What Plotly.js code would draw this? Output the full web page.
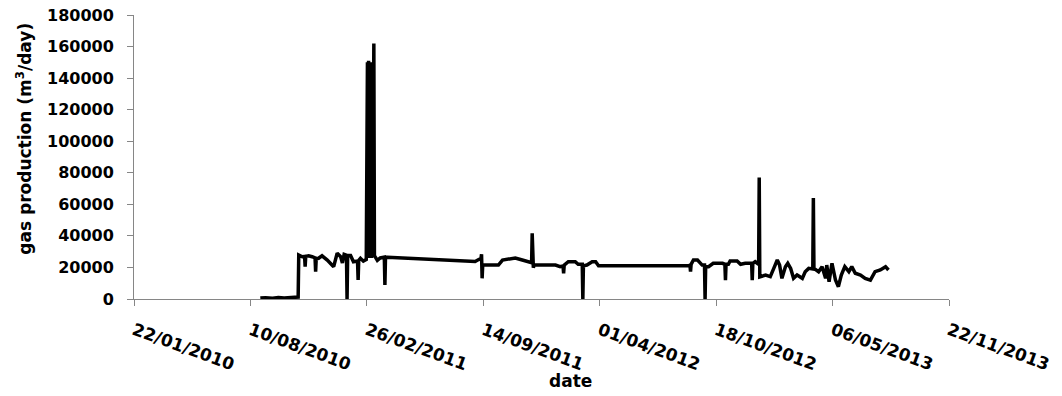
<!DOCTYPE html>
<html><head><meta charset="utf-8">
<script src="https://cdn.plot.ly/plotly-3.0.1.min.js"></script>
<style>html,body{margin:0;padding:0;background:#fff;}</style>
</head><body><div id="chart" style="width:1062px;height:396px;"></div>
<script>
const dates = [
'2010-08-27','2010-09-05','2010-09-17','2010-09-27','2010-10-07','2010-10-18','2010-10-31',
'2010-11-01','2010-11-07','2010-11-11','2010-11-12','2010-11-13','2010-11-18','2010-11-24','2010-11-29','2010-11-30','2010-12-01',
'2010-12-05','2010-12-11','2010-12-20','2010-12-25','2010-12-31','2011-01-06','2011-01-12','2011-01-15','2011-01-18',
'2011-01-22','2011-01-23','2011-01-24','2011-01-29','2011-02-03','2011-02-10','2011-02-11','2011-02-12',
'2011-02-15','2011-02-20','2011-02-25',
'2011-02-27','2011-02-28','2011-03-01','2011-03-02','2011-03-03','2011-03-04','2011-03-05','2011-03-06',
'2011-03-07','2011-03-08','2011-03-10','2011-03-11','2011-03-16','2011-03-21','2011-03-28','2011-03-29','2011-03-30','2011-04-02',
'2011-08-31','2011-09-06','2011-09-10','2011-09-11','2011-09-12','2011-09-13','2011-09-18','2011-09-26','2011-10-10','2011-10-17',
'2011-10-31','2011-11-08','2011-11-20','2011-11-29','2011-12-06','2011-12-07','2011-12-08','2011-12-09','2011-12-10',
'2011-12-18','2011-12-30','2012-01-16','2012-01-24','2012-01-29','2012-01-30','2012-01-31','2012-02-07','2012-02-19','2012-02-24',
'2012-03-02','2012-03-03','2012-03-04','2012-03-10','2012-03-19','2012-03-25','2012-03-30',
'2012-09-01','2012-09-03','2012-09-04','2012-09-05','2012-09-09','2012-09-16','2012-09-24','2012-09-28','2012-09-29','2012-09-30',
'2012-10-05','2012-10-13','2012-10-29','2012-11-02','2012-11-03','2012-11-04','2012-11-08','2012-11-11','2012-11-23','2012-11-29',
'2012-12-07','2012-12-18','2012-12-19','2012-12-20','2012-12-24','2012-12-30','2012-12-31','2013-01-01','2013-01-11','2013-01-19',
'2013-01-25','2013-01-31','2013-02-04','2013-02-08','2013-02-14','2013-02-18','2013-02-23','2013-02-28',
'2013-03-06','2013-03-15','2013-03-20','2013-03-26','2013-04-02','2013-04-03','2013-04-04','2013-04-12',
'2013-04-18','2013-04-24','2013-04-26','2013-04-30','2013-05-05','2013-05-11','2013-05-16','2013-05-21',
'2013-05-27','2013-06-03','2013-06-08','2013-06-14','2013-06-23','2013-07-01','2013-07-10','2013-07-18',
'2013-07-27','2013-08-05','2013-08-10'
];
const gas = [
600,800,500,900,700,1000,1200,
27900,26800,27000,20500,27000,27400,26800,26000,17300,25500,
25800,27400,24700,22600,20500,29000,26800,22800,28300,
27800,0,27600,27600,23600,24000,12000,24500,
25800,24000,25000,
150000,27000,151000,26000,150000,27000,149000,26000,
150000,27000,162000,27500,24500,26000,26500,8900,26400,26400,
23800,25000,25500,28300,13100,21500,21500,22000,21500,24700,
25500,26000,24700,23600,23000,41600,22000,19800,21500,
21500,22000,21500,20500,21000,16300,21500,23600,23600,22000,
22000,0,21000,21500,23600,23600,21100,
21100,21500,17300,22000,24700,24700,21500,21500,0,20500,
20500,22600,22600,22000,12000,22000,22000,24100,24100,22000,
22600,22600,12000,22600,23600,22000,77000,14000,15200,14200,
19400,24700,21500,13100,20500,22600,19400,13100,
15200,13100,17300,19400,19000,64000,19400,17300,
20500,13100,21500,11000,22600,12000,7800,15200,
20500,17300,20500,16300,15200,13100,12000,17300,
18400,20500,18400
];
const tickDates = ['2010-01-22','2010-08-10','2011-02-26','2011-09-14','2012-04-01','2012-10-18','2013-05-06','2013-11-22'];
const tickLabels = ['22/01/2010','10/08/2010','26/02/2011','14/09/2011','01/04/2012','18/10/2012','06/05/2013','22/11/2013'];
const yTicks = [0,20000,40000,60000,80000,100000,120000,140000,160000,180000];

const fontFam = 'DejaVu Sans, sans-serif';
const trace = {
  x: dates, y: gas, type: 'scatter', mode: 'lines',
  line: {color: '#000000', width: 3.5},
  hoverinfo: 'skip'
};
const layout = {
  width: 1062, height: 396,
  margin: {l: 134, r: 113, t: 15, b: 97},
  paper_bgcolor: '#ffffff', plot_bgcolor: '#ffffff',
  showlegend: false,
  font: {family: fontFam, color: '#000000', size: 15, weight: 'bold'},
  xaxis: {
    type: 'date', range: ['2010-01-22', '2013-11-22'],
    tickmode: 'array', tickvals: tickDates, ticktext: tickLabels,
    tickangle: 20, ticks: 'outside', ticklen: 6, tickcolor: '#868686', tickwidth: 1,
    showline: true, linecolor: '#868686', linewidth: 1,
    showgrid: false, zeroline: false,
    tickfont: {family: fontFam, size: 17, color: '#000000', weight: 'bold'},
    ticklabelstandoff: 8
  },
  yaxis: {
    range: [0, 180000], tickmode: 'array', tickvals: yTicks,
    ticktext: yTicks.map(v => String(v)),
    ticks: 'outside', ticklen: 6, tickcolor: '#868686', tickwidth: 1,
    showline: true, linecolor: '#868686', linewidth: 1,
    showgrid: false, zeroline: false,
    tickfont: {family: fontFam, size: 16, color: '#000000', weight: 'bold'},
    ticklabelstandoff: 10
  },
  annotations: [
    {text: 'gas production (m<sup>3</sup>/day)', textangle: -90, xref: 'paper', yref: 'paper',
     x: -0.136, y: 0.565, xanchor: 'center', yanchor: 'middle', showarrow: false,
     font: {family: fontFam, size: 17, color: '#000000', weight: 'bold'}},
    {text: 'date', xref: 'paper', yref: 'paper', x: 0.535, y: -0.29, xanchor: 'center', yanchor: 'middle',
     showarrow: false, font: {family: fontFam, size: 17, color: '#000000', weight: 'bold'}}
  ]
};
Plotly.newPlot('chart', [trace], layout, {staticPlot: true, displayModeBar: false});
</script></body></html>
